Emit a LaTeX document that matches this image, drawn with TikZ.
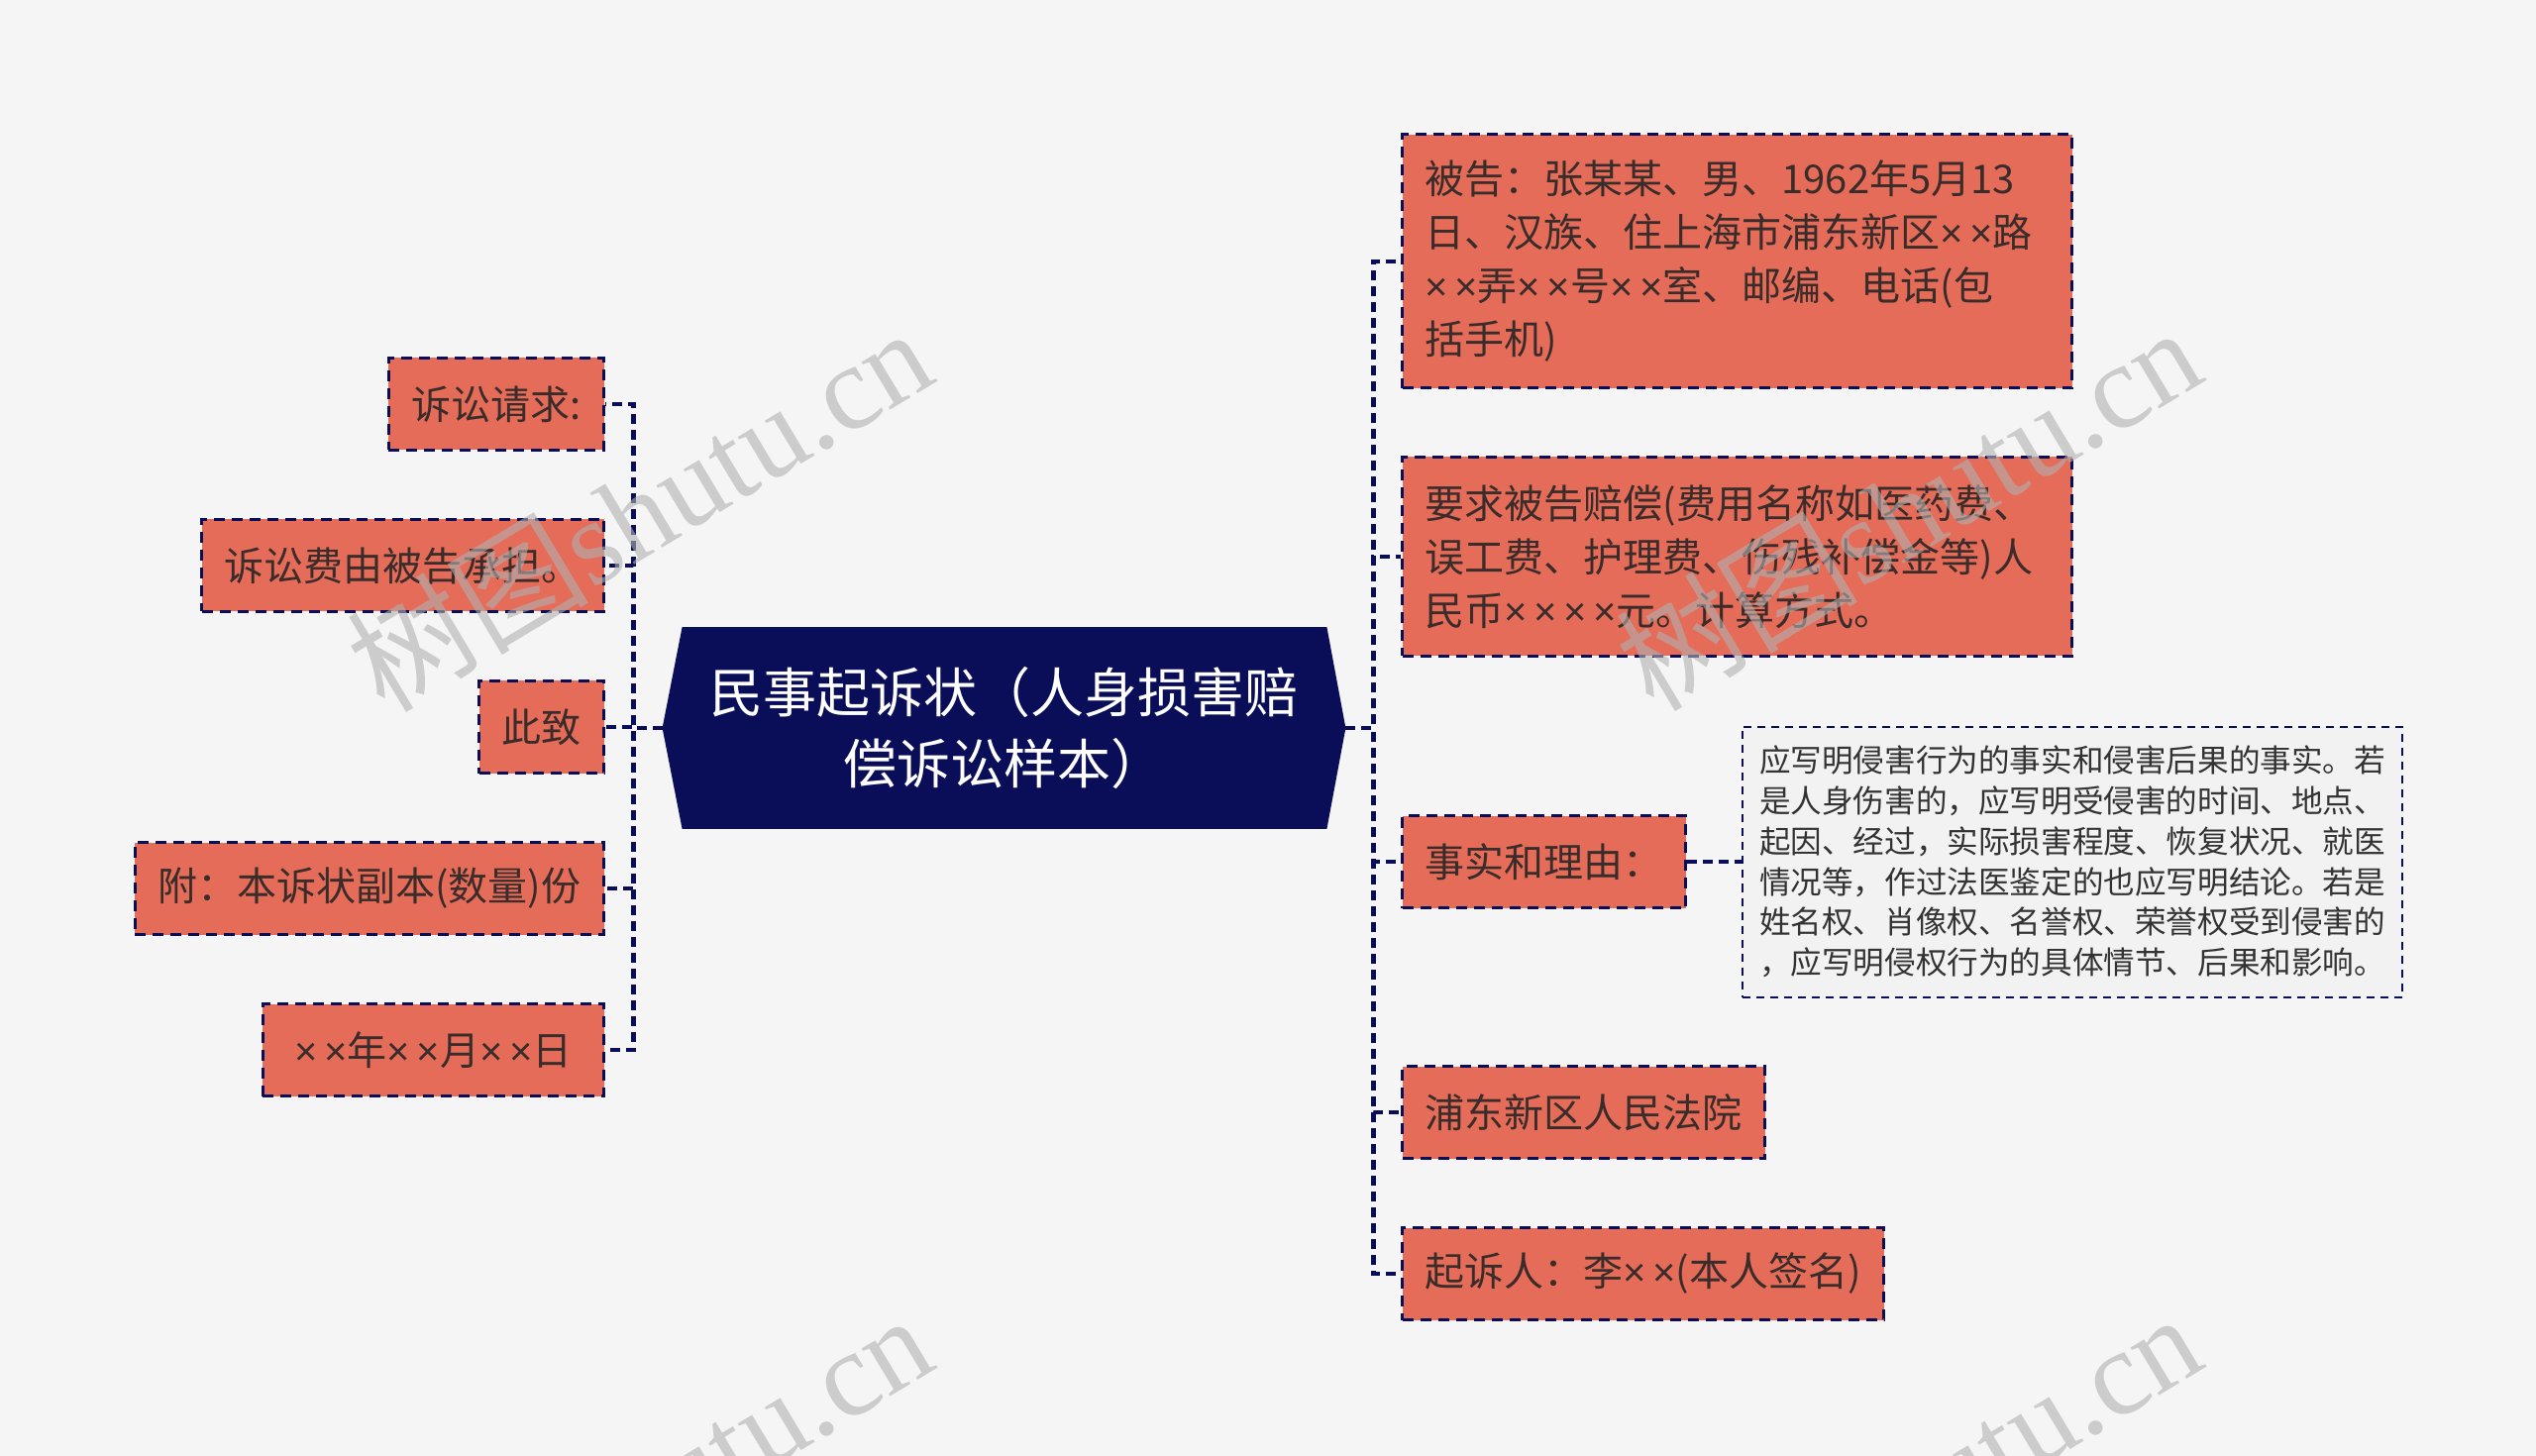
\documentclass[tikz,border=0pt]{standalone}
\usepackage{fontspec}
\setmainfont{Noto Sans CJK SC}
\newfontfamily\wmserif{Liberation Serif}
\newfontfamily\timesfont{Liberation Sans}
\usetikzlibrary{calc}

\newcommand{\xx}{{\timesfont ×}}

\definecolor{pagebg}{RGB}{245,245,245}
\definecolor{navy}{RGB}{10,14,88}
\definecolor{leafred}{RGB}{228,108,88}
\definecolor{leaftext}{RGB}{58,44,42}
\definecolor{notebg}{RGB}{242,242,242}
\definecolor{notetext}{RGB}{51,51,51}
\definecolor{wmgray}{RGB}{177,177,177}

\pgfdeclarelayer{bg}
\pgfsetlayers{bg,main}

\tikzset{
	leafbox/.style={draw=navy, fill=leafred, line width=1.5pt, dash pattern=on 5.5pt off 3.5pt, text=leaftext, font=\fontsize{20}{27}\selectfont, inner xsep=11.5pt, inner ysep=0pt, minimum height=46.5pt, align=left},
	rootbox/.style={text=white, font=\fontsize{27}{36}\selectfont, align=center, minimum width=344.5pt, minimum height=101.5pt, inner sep=0pt},
	notebox/.style={draw=navy, fill=notebg, line width=1pt, dash pattern=on 4pt off 3pt, text=notetext, font=\fontsize{15.8}{20.4}\selectfont, align=left, text width=316pt, inner xsep=8.5pt, inner ysep=0pt, minimum height=136.5pt},
	linkline/.style={navy, line width=2.4pt, dash pattern=on 5pt off 3pt},
	wmark/.style={wmgray, opacity=0.6, rotate=31, inner sep=0pt, font=\fontsize{61}{61}\selectfont}
}

\begin{document}
\begin{tikzpicture}[x=0.5pt,y=-0.5pt]
		\useasboundingbox (0,0) rectangle (2560,1470);
		\node[rootbox] (root) at (1013.5,735) {民事起诉状（人身损害赔\\偿诉讼样本）};
		\node[leafbox, anchor=east] (ask) at (611,408) {诉讼请求:};
		\node[leafbox, anchor=east] (fee) at (611,571) {诉讼费由被告承担。};
		\node[leafbox, anchor=east] (salute) at (611,734) {此致};
		\node[leafbox, anchor=east] (copy) at (611,897) {附：本诉状副本(数量)份};
		\node[leafbox, anchor=east, inner xsep=16pt] (date) at (611,1060) {\xx{}\,\xx{}年\xx{}\,\xx{}月\xx{}\,\xx{}日};
		\node[leafbox, anchor=west, text width=315pt, minimum height=128pt] (defendant) at (1414,264) {被告：张某某、男、1962年5月13\\日、汉族、住上海市浦东新区\xx{}\,\xx{}路\\\xx{}\,\xx{}弄\xx{}\,\xx{}号\xx{}\,\xx{}室、邮编、电话(包\\括手机)};
		\node[leafbox, anchor=west, text width=315pt, minimum height=100.5pt] (claim) at (1414,562) {要求被告赔偿(费用名称如医药费、\\误工费、护理费、伤残补偿金等)人\\民币\xx{}\,\xx{}\,\xx{}\,\xx{}元。计算方式。};
		\node[leafbox, anchor=west] (facts) at (1414,870) {事实和理由：};
		\node[notebox, anchor=west] (factnote) at (1758,870) {应写明侵害行为的事实和侵害后果的事实。若\\是人身伤害的，应写明受侵害的时间、地点、\\起因、经过，实际损害程度、恢复状况、就医\\情况等，作过法医鉴定的也应写明结论。若是\\姓名权、肖像权、名誉权、荣誉权受到侵害的\\，应写明侵权行为的具体情节、后果和影响。};
		\node[leafbox, anchor=west] (court) at (1414,1123) {浦东新区人民法院};
		\node[leafbox, anchor=west] (plaintiff) at (1414,1286) {起诉人：李\xx{}\,\xx{}(本人签名)};
		\begin{pgfonlayer}{bg}
			\fill[pagebg] (0,0) rectangle (2560,1470);
			\fill[navy] (root.west) -- ($(root.north west)+(20,0)$) -- ($(root.north east)+(-19,0)$) -- (root.east) -- ($(root.south east)+(-19,0)$) -- ($(root.south west)+(20,0)$) -- cycle;
			\foreach \leaf in {ask,fee,salute,copy,date}
				\draw[linkline] (root.west) -- ++(-29,0) |- (\leaf.east);
			\foreach \leaf in {defendant,claim,facts,court,plaintiff}
				\draw[linkline] (root.east) -- ++(28,0) |- (\leaf.west);
			\draw[linkline] (facts.east) -- (factnote.west);
		\end{pgfonlayer}
		\begin{scope}
			\clip (0,0) rectangle (2560,1470);
			\node[wmark] (wm1) at (645,513) {树图{\wmserif shutu.cn}};
			\node[wmark] (wm2) at (1926,512) {树图{\wmserif shutu.cn}};
			\node[wmark] (wm3) at (645,1509) {树图{\wmserif shutu.cn}};
			\node[wmark] (wm4) at (1926,1508) {树图{\wmserif shutu.cn}};
		\end{scope}
\end{tikzpicture}
\end{document}
